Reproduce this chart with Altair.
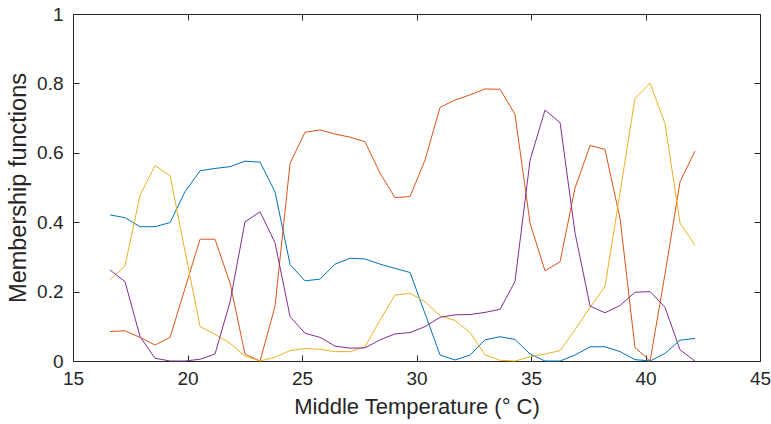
import altair as alt
import pandas as pd

# Middle temperature sample points (deg C)
temperature = [16.62, 17.27, 17.93, 18.58, 19.24, 19.89, 20.55, 21.20, 21.86, 22.51,
               23.17, 23.82, 24.48, 25.13, 25.79, 26.44, 27.10, 27.75, 28.41, 29.06,
               29.72, 30.37, 31.03, 31.68, 32.34, 32.99, 33.65, 34.30, 34.96, 35.61,
               36.27, 36.92, 37.58, 38.23, 38.89, 39.54, 40.20, 40.85, 41.51, 42.16]

# Membership function values, one list per function
mf1 = [0.421, 0.413, 0.387, 0.387, 0.399, 0.488, 0.548, 0.555, 0.560, 0.576,
       0.573, 0.488, 0.278, 0.231, 0.236, 0.279, 0.296, 0.294, 0.279, 0.267,
       0.255, 0.137, 0.017, 0.003, 0.017, 0.061, 0.070, 0.062, 0.020, 0.000,
       0.000, 0.017, 0.041, 0.041, 0.027, 0.004, 0.000, 0.022, 0.060, 0.065]
mf2 = [0.085, 0.087, 0.068, 0.046, 0.068, 0.209, 0.351, 0.351, 0.224, 0.020,
       0.000, 0.157, 0.570, 0.659, 0.666, 0.654, 0.645, 0.632, 0.541, 0.471,
       0.474, 0.579, 0.731, 0.752, 0.767, 0.784, 0.783, 0.711, 0.397, 0.260,
       0.286, 0.498, 0.621, 0.610, 0.410, 0.039, 0.000, 0.250, 0.517, 0.605]
mf3 = [0.235, 0.274, 0.478, 0.563, 0.534, 0.317, 0.099, 0.077, 0.051, 0.014,
       0.000, 0.011, 0.030, 0.036, 0.034, 0.027, 0.027, 0.041, 0.118, 0.190,
       0.195, 0.171, 0.130, 0.117, 0.082, 0.018, 0.002, 0.000, 0.012, 0.020,
       0.030, 0.090, 0.155, 0.214, 0.486, 0.757, 0.800, 0.685, 0.397, 0.334]
mf4 = [0.262, 0.229, 0.070, 0.008, 0.000, 0.000, 0.005, 0.020, 0.171, 0.401,
       0.430, 0.341, 0.128, 0.080, 0.068, 0.043, 0.037, 0.038, 0.061, 0.078,
       0.082, 0.099, 0.126, 0.133, 0.134, 0.140, 0.149, 0.229, 0.579, 0.723,
       0.687, 0.370, 0.158, 0.139, 0.160, 0.198, 0.200, 0.155, 0.032, 0.000]

series_names = ["MF1", "MF2", "MF3", "MF4"]
series_colors = ["#0072BD", "#D95319", "#EDB120", "#7E2F8E"]
x_ticks = [15, 20, 25, 30, 35, 40, 45]
y_ticks = [0, 0.2, 0.4, 0.6, 0.8, 1]

rows = []
for order, (name, values) in enumerate(zip(series_names, [mf1, mf2, mf3, mf4])):
    for t, v in zip(temperature, values):
        rows.append({"temperature": t, "membership": v, "series": name, "order": order})
df = pd.DataFrame(rows)

FONT = "Liberation Sans"
INK = "#262626"
TICK = 6

x_scale = alt.Scale(domain=[15, 45], nice=False, zero=False)
y_scale = alt.Scale(domain=[0, 1], nice=False)

# inward ticks: pull the axis inside by the tick length, frame comes from the view stroke
common = dict(domain=False, grid=False, tickSize=TICK, offset=-TICK, tickColor=INK,
              tickWidth=1, labelColor=INK, titleColor=INK, labelFont=FONT,
              titleFont=FONT, labelFontSize=19, labelFlush=False,
              titleFontWeight="normal")

lines = alt.Chart(df).mark_line(strokeWidth=1).encode(
    x=alt.X("temperature:Q", scale=x_scale,
            axis=alt.Axis(values=x_ticks, title="Middle Temperature (° C)",
                          labelPadding=8, titlePadding=8, titleFontSize=22, **common)),
    y=alt.Y("membership:Q", scale=y_scale,
            axis=alt.Axis(values=y_ticks, format="~g", title="Membership functions",
                          labelPadding=10, titlePadding=6, titleFontSize=23.5, **common)),
    color=alt.Color("series:N", scale=alt.Scale(domain=series_names, range=series_colors),
                    legend=None),
    order="order:Q",
)

# mirrored tick marks on the top and right edges
mirror = alt.Chart(df).mark_line(opacity=0).encode(
    x=alt.X("temperature:Q", scale=x_scale,
            axis=alt.Axis(orient="top", values=x_ticks, labels=False, title=None, **common)),
    y=alt.Y("membership:Q", scale=y_scale,
            axis=alt.Axis(orient="right", values=y_ticks, labels=False, title=None, **common)),
    detail="series:N",
)

chart = (
    alt.layer(lines, mirror)
    .resolve_axis(x="independent", y="independent")
    .properties(width=687, height=347,
                autosize=alt.AutoSizeParams(type="none"),
                padding={"left": 73, "top": 14, "right": 11, "bottom": 63},
                background="white")
    .configure_view(stroke=INK, strokeWidth=1)
)

chart.save("out.html", embed_options={"renderer": "svg", "actions": False})
